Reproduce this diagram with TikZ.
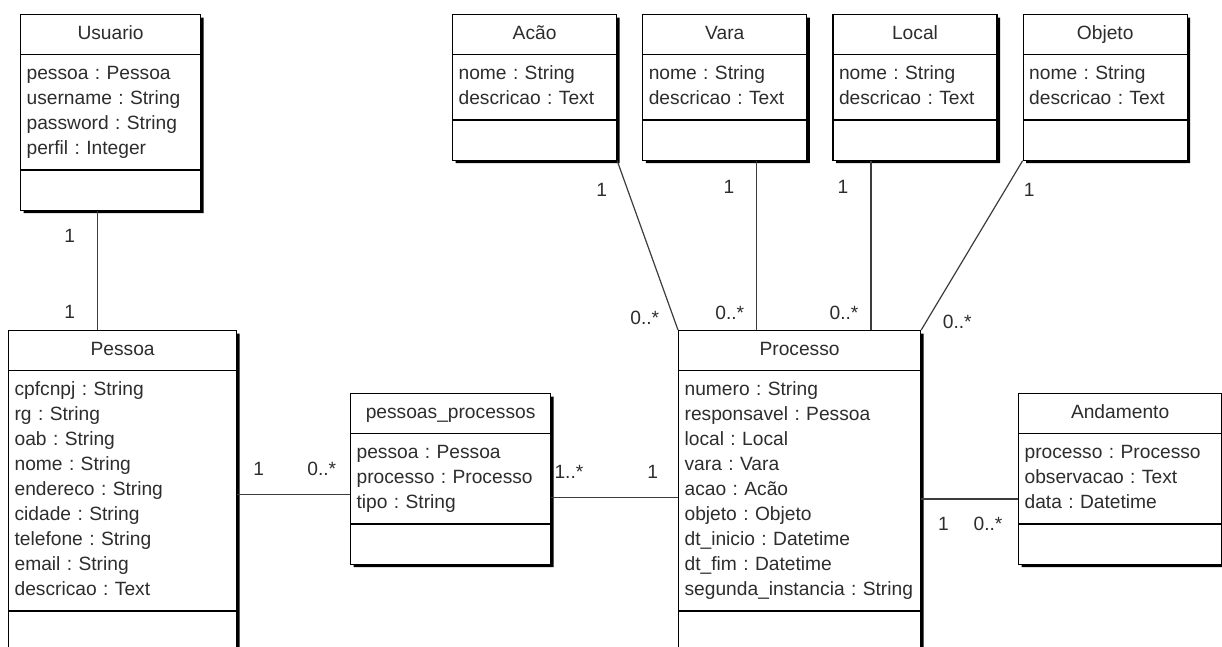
\documentclass[tikz,border=0pt]{standalone}
\usepackage{fontspec}
\setmainfont{Liberation Sans}
\usepackage{xcolor}
\usepackage{tikz}
\usetikzlibrary{positioning,shapes.multipart,shadows}
\definecolor{textoclasse}{RGB}{45,45,45}
\definecolor{linhaassoc}{RGB}{60,60,60}

\begin{document}
\begin{tikzpicture}[
  x=0.5pt,y=-0.5pt,
  classe/.style={rectangle split,rectangle split parts=3,draw=black,line width=0.6pt,
                 fill=white,anchor=north west,align=left,inner xsep=3pt,inner ysep=3.5pt,
                 text=textoclasse,font=\fontsize{9.6}{12.5}\selectfont\frenchspacing,
                 drop shadow={shadow xshift=1.5pt,shadow yshift=-1.5pt,opacity=1,fill=black}},
  mult/.style={inner sep=0pt,text=textoclasse,font=\fontsize{9.6}{12.5}\selectfont},
  assoc/.style={draw=linhaassoc,line width=0.6pt}
]
\useasboundingbox (0,0) rectangle (1222,647);

\node[classe,text width=84pt] (usu) at (20,14) {\strut\hspace*{\fill}Usuario\hspace*{\fill}
  \nodepart{two}\strut pessoa : Pessoa\\username : String\\password : String\\perfil : Integer\strut
  \nodepart{three}\rule{0pt}{12.5pt}};
\node[classe,text width=108pt] (pes) at (8,330) {\strut\hspace*{\fill}Pessoa\hspace*{\fill}
  \nodepart{two}\strut cpfcnpj : String\\rg : String\\oab : String\\nome : String\\endereco : String\\cidade : String\\telefone : String\\email : String\\descricao : Text\strut
  \nodepart{three}\rule{0pt}{30pt}};
\node[classe,text width=94pt] (pp) at (350,393) {\strut\hspace*{\fill}pessoas\_processos\hspace*{\fill}
  \nodepart{two}\strut pessoa : Pessoa\\processo : Processo\\tipo : String\strut
  \nodepart{three}\rule{0pt}{12.5pt}};
\node[classe,text width=115pt] (pro) at (678,330) {\strut\hspace*{\fill}Processo\hspace*{\fill}
  \nodepart{two}\strut numero : String\\responsavel : Pessoa\\local : Local\\vara : Vara\\acao : Acão\\objeto : Objeto\\dt\_inicio : Datetime\\dt\_fim : Datetime\\segunda\_instancia : String\strut
  \nodepart{three}\rule{0pt}{30pt}};
\node[classe,text width=95.5pt] (anda) at (1018,393) {\strut\hspace*{\fill}Andamento\hspace*{\fill}
  \nodepart{two}\strut processo : Processo\\observacao : Text\\data : Datetime\strut
  \nodepart{three}\rule{0pt}{12.5pt}};

% linha de cima
\node[classe,text width=76pt] (acao) at (452,14) {\strut\hspace*{\fill}Acão\hspace*{\fill}
  \nodepart{two}\strut nome : String\\descricao : Text\strut
  \nodepart{three}\rule{0pt}{12.5pt}};
\node[classe,text width=76pt,right=12.5pt of acao] (vara) {\strut\hspace*{\fill}Vara\hspace*{\fill}
  \nodepart{two}\strut nome : String\\descricao : Text\strut
  \nodepart{three}\rule{0pt}{12.5pt}};
\node[classe,text width=76pt,right=12.5pt of vara] (local) {\strut\hspace*{\fill}Local\hspace*{\fill}
  \nodepart{two}\strut nome : String\\descricao : Text\strut
  \nodepart{three}\rule{0pt}{12.5pt}};
\node[classe,text width=76pt,right=12.5pt of local] (objeto) {\strut\hspace*{\fill}Objeto\hspace*{\fill}
  \nodepart{two}\strut nome : String\\descricao : Text\strut
  \nodepart{three}\rule{0pt}{12.5pt}};

\draw[assoc] ([xshift=-6.5pt]usu.south) -- ([xshift=-6.5pt]usu.south |- pes.north)
  node[mult,pos=0.21,left=11pt] {1}
  node[mult,pos=0.85,left=11pt] {1};
\draw[assoc] ([yshift=-7.75pt]pp.west -| pes.east) -- ([yshift=-7.75pt]pp.west)
  node[mult,pos=0.19,above=9pt] {1}
  node[mult,pos=0.75,above=9pt] {0..*};
\draw[assoc] ([yshift=-9.25pt]pp.east) -- ([yshift=-9.25pt]pp.east -| pro.west)
  node[mult,pos=0.14,above=9pt] {1..*}
  node[mult,pos=0.8,above=9pt] {1};
\draw[assoc] ([yshift=-10pt]anda.west -| pro.east) -- ([yshift=-10pt]anda.west)
  node[mult,pos=0.23,below=9pt] {1}
  node[mult,pos=0.69,below=9pt] {0..*};
\draw[assoc] (acao.south east) -- (pro.north west)
  node[mult,pos=0.17,left=10pt] {1}
  node[mult,pos=0.93,left=7pt] {0..*};
\draw[assoc] ([xshift=16pt]vara.south) -- ([xshift=16pt]vara.south |- pro.north)
  node[mult,pos=0.155,left=11pt] {1}
  node[mult,pos=0.9,left=6pt] {0..*};
\draw[assoc] ([xshift=-22pt]local.south) -- ([xshift=-22pt]local.south |- pro.north)
  node[mult,pos=0.155,left=11pt] {1}
  node[mult,pos=0.9,left=6pt] {0..*};
\draw[assoc] (objeto.south west) -- (pro.north east)
  node[mult,pos=0.17,right=9pt] {1}
  node[mult,pos=0.95,right=8pt] {0..*};
\end{tikzpicture}
\end{document}
